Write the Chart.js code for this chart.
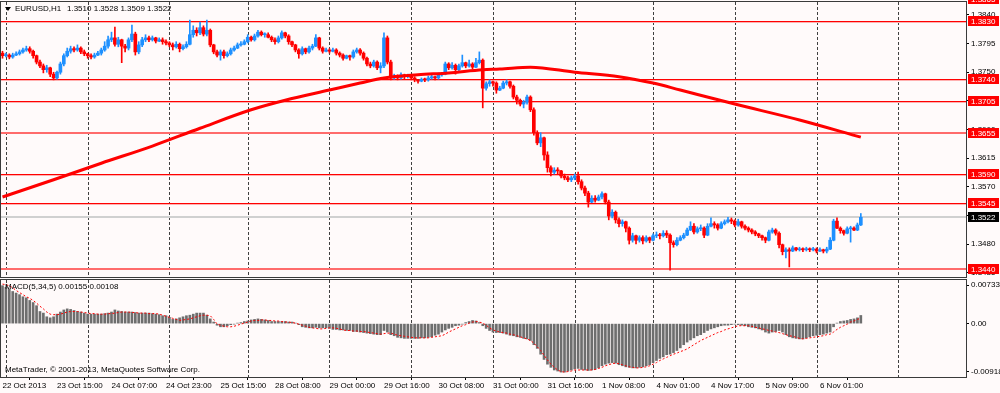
<!DOCTYPE html>
<html><head><meta charset="utf-8">
<script src="https://cdn.jsdelivr.net/npm/chart.js@4.4.0/dist/chart.umd.min.js"></script>
<style>
html,body{margin:0;padding:0;background:#FFFAFA;}
#wrap{position:relative;width:1000px;height:393px;background:#FFFAFA;overflow:hidden}
#c1{position:absolute;left:0;top:0}
#c2{position:absolute;left:0;top:279px}
</style></head><body>
<div id="wrap"><canvas id="c1" width="1000" height="279"></canvas><canvas id="c2" width="1000" height="114"></canvas></div>
<script>
// ---------- DATA ----------
const symbolTitle = "EURUSD,H1";
const titleValues = "1.3510 1.3528 1.3509 1.3522";
const macdTitle = "MACD(5,34,5) 0.00155 0.00108";
const credit = "MetaTrader, \u00A9 2001-2013, MetaQuotes Software Corp.";

const xTickBars = [0,16,32,48,64,80,96,112,128,144,160,176,192,208,224,240];
const xTickLabels = ["22 Oct 2013","23 Oct 15:00","24 Oct 07:00","24 Oct 23:00","25 Oct 15:00","28 Oct 08:00","29 Oct 00:00","29 Oct 16:00","30 Oct 08:00","31 Oct 00:00","31 Oct 16:00","1 Nov 08:00","4 Nov 01:00","4 Nov 17:00","5 Nov 09:00","6 Nov 01:00"];
const dayStartBars = [1,25,49,72,96,120,144,168,191,215,239,263];

const priceTicks = [1.3840,1.3795,1.3750,1.3705,1.3660,1.3615,1.3570,1.3525,1.3480,1.3435];
const levelPrices = [1.3865,1.3830,1.3740,1.3705,1.3655,1.3590,1.3545,1.3440];
const softLevels = [1.3655,1.3440];
const currentPrice = 1.3522;
const macdTicks = [0.00733,0,-0.00918];

const open = [1.3780,
1.3776,1.3777,1.3774,1.3777,1.3779,1.3782,1.3785,1.3787,1.3783,1.3776,
1.3766,1.3760,1.3754,1.3757,1.3747,1.3741,1.3750,1.3763,1.3776,1.3783,
1.3787,1.3785,1.3788,1.3782,1.3779,1.3776,1.3774,1.3777,1.3780,1.3785,
1.3791,1.3801,1.3804,1.3794,1.3801,1.3791,1.3788,1.3801,1.3810,1.3782,
1.3793,1.3801,1.3804,1.3801,1.3804,1.3799,1.3801,1.3798,1.3796,1.3793,
1.3790,1.3794,1.3787,1.3790,1.3794,1.3809,1.3816,1.3812,1.3820,1.3810,
1.3816,1.3793,1.3782,1.3777,1.3782,1.3776,1.3779,1.3785,1.3788,1.3793,
1.3794,1.3798,1.3805,1.3801,1.3807,1.3813,1.3809,1.3809,1.3805,1.3801,
1.3798,1.3804,1.3812,1.3807,1.3798,1.3793,1.3785,1.3779,1.3787,1.3782,
1.3788,1.3791,1.3804,1.3788,1.3783,1.3785,1.3783,1.3785,1.3780,1.3777,
1.3772,1.3776,1.3774,1.3782,1.3785,1.3780,1.3772,1.3763,1.3760,1.3766,
1.3757,1.3760,1.3804,1.3766,1.3741,1.3744,1.3741,1.3746,1.3743,1.3744,
1.3741,1.3738,1.3736,1.3739,1.3738,1.3741,1.3743,1.3741,1.3746,1.3747,
1.3763,1.3757,1.3761,1.3754,1.3760,1.3765,1.3760,1.3763,1.3758,1.3765,
1.3769,1.3725,1.3732,1.3735,1.3733,1.3722,1.3725,1.3733,1.3735,1.3728,
1.3711,1.3706,1.3700,1.3703,1.3711,1.3691,1.3655,1.3639,1.3647,1.3620,
1.3600,1.3593,1.3596,1.3595,1.3587,1.3584,1.3581,1.3584,1.3587,1.3578,
1.3568,1.3560,1.3546,1.3552,1.3549,1.3554,1.3559,1.3546,1.3524,1.3530,
1.3518,1.3512,1.3515,1.3505,1.3486,1.3493,1.3486,1.3490,1.3485,1.3490,
1.3486,1.3493,1.3494,1.3493,1.3497,1.3494,1.3482,1.3479,1.3486,1.3490,
1.3494,1.3502,1.3508,1.3499,1.3504,1.3505,1.3494,1.3508,1.3512,1.3510,
1.3505,1.3512,1.3515,1.3518,1.3516,1.3510,1.3515,1.3508,1.3505,1.3502,
1.3499,1.3496,1.3493,1.3490,1.3486,1.3499,1.3502,1.3497,1.3479,1.3468,
1.3471,1.3469,1.3474,1.3471,1.3472,1.3471,1.3472,1.3471,1.3472,1.3469,
1.3471,1.3469,1.3472,1.3486,1.3516,1.3505,1.3501,1.3497,1.3504,1.3505,
1.3502,1.3510];

const close = [
1.3776,1.3777,1.3774,1.3777,1.3779,1.3782,1.3785,1.3787,1.3783,1.3776,
1.3766,1.3760,1.3754,1.3757,1.3747,1.3741,1.3750,1.3763,1.3776,1.3783,
1.3787,1.3785,1.3788,1.3782,1.3779,1.3776,1.3774,1.3777,1.3780,1.3785,
1.3791,1.3801,1.3804,1.3794,1.3801,1.3791,1.3788,1.3801,1.3810,1.3782,
1.3793,1.3801,1.3804,1.3801,1.3804,1.3799,1.3801,1.3798,1.3796,1.3793,
1.3790,1.3794,1.3787,1.3790,1.3794,1.3809,1.3816,1.3812,1.3820,1.3810,
1.3816,1.3793,1.3782,1.3777,1.3782,1.3776,1.3779,1.3785,1.3788,1.3793,
1.3794,1.3798,1.3805,1.3801,1.3807,1.3813,1.3809,1.3809,1.3805,1.3801,
1.3798,1.3804,1.3812,1.3807,1.3798,1.3793,1.3785,1.3779,1.3787,1.3782,
1.3788,1.3791,1.3804,1.3788,1.3783,1.3785,1.3783,1.3785,1.3780,1.3777,
1.3772,1.3776,1.3774,1.3782,1.3785,1.3780,1.3772,1.3763,1.3760,1.3766,
1.3757,1.3760,1.3804,1.3766,1.3741,1.3744,1.3741,1.3746,1.3743,1.3744,
1.3741,1.3738,1.3736,1.3739,1.3738,1.3741,1.3743,1.3741,1.3746,1.3747,
1.3763,1.3757,1.3761,1.3754,1.3760,1.3765,1.3760,1.3763,1.3758,1.3765,
1.3769,1.3725,1.3732,1.3735,1.3733,1.3722,1.3725,1.3733,1.3735,1.3728,
1.3711,1.3706,1.3700,1.3703,1.3711,1.3691,1.3655,1.3639,1.3647,1.3620,
1.3600,1.3593,1.3596,1.3595,1.3587,1.3584,1.3581,1.3584,1.3587,1.3578,
1.3568,1.3560,1.3546,1.3552,1.3549,1.3554,1.3559,1.3546,1.3524,1.3530,
1.3518,1.3512,1.3515,1.3505,1.3486,1.3493,1.3486,1.3490,1.3485,1.3490,
1.3486,1.3493,1.3494,1.3493,1.3497,1.3494,1.3482,1.3479,1.3486,1.3490,
1.3494,1.3502,1.3508,1.3499,1.3504,1.3505,1.3494,1.3508,1.3512,1.3510,
1.3505,1.3512,1.3515,1.3518,1.3516,1.3510,1.3515,1.3508,1.3505,1.3502,
1.3499,1.3496,1.3493,1.3490,1.3486,1.3499,1.3502,1.3497,1.3479,1.3468,
1.3471,1.3469,1.3474,1.3471,1.3472,1.3471,1.3472,1.3471,1.3472,1.3469,
1.3471,1.3469,1.3472,1.3486,1.3516,1.3505,1.3501,1.3497,1.3504,1.3505,
1.3502,1.3510,1.3522];

const high = [
1.3783,1.3780,1.3779,1.3780,1.3782,1.3785,1.3788,1.3791,1.3790,1.3785,
1.3777,1.3769,1.3763,1.3761,1.3758,1.3750,1.3752,1.3766,1.3779,1.3788,
1.3791,1.3790,1.3793,1.3790,1.3785,1.3780,1.3779,1.3780,1.3783,1.3788,
1.3798,1.3807,1.3813,1.3821,1.3805,1.3802,1.3794,1.3804,1.3824,1.3813,
1.3798,1.3805,1.3809,1.3807,1.3807,1.3805,1.3804,1.3804,1.3801,1.3798,
1.3796,1.3798,1.3796,1.3793,1.3798,1.3832,1.3823,1.3820,1.3829,1.3823,
1.3832,1.3818,1.3794,1.3785,1.3785,1.3785,1.3782,1.3788,1.3791,1.3796,
1.3798,1.3801,1.3809,1.3807,1.3810,1.3816,1.3815,1.3812,1.3812,1.3807,
1.3804,1.3807,1.3815,1.3813,1.3809,1.3799,1.3794,1.3787,1.3790,1.3788,
1.3791,1.3794,1.3809,1.3805,1.3790,1.3788,1.3787,1.3788,1.3787,1.3782,
1.3779,1.3777,1.3777,1.3785,1.3788,1.3787,1.3782,1.3774,1.3766,1.3769,
1.3768,1.3765,1.3812,1.3807,1.3769,1.3747,1.3746,1.3749,1.3747,1.3747,
1.3746,1.3743,1.3739,1.3741,1.3741,1.3744,1.3746,1.3744,1.3749,1.3750,
1.3766,1.3765,1.3765,1.3763,1.3763,1.3777,1.3766,1.3769,1.3765,1.3772,
1.3782,1.3771,1.3735,1.3738,1.3736,1.3735,1.3728,1.3736,1.3738,1.3736,
1.3730,1.3714,1.3708,1.3706,1.3714,1.3713,1.3694,1.3658,1.3655,1.3648,
1.3625,1.3603,1.3600,1.3600,1.3596,1.3590,1.3587,1.3587,1.3590,1.3593,
1.3581,1.3571,1.3563,1.3556,1.3556,1.3557,1.3562,1.3560,1.3549,1.3534,
1.3532,1.3521,1.3518,1.3516,1.3507,1.3497,1.3494,1.3493,1.3493,1.3493,
1.3491,1.3496,1.3499,1.3497,1.3501,1.3501,1.3496,1.3485,1.3490,1.3493,
1.3497,1.3505,1.3515,1.3512,1.3507,1.3510,1.3507,1.3512,1.3521,1.3515,
1.3512,1.3515,1.3518,1.3522,1.3521,1.3518,1.3519,1.3516,1.3510,1.3507,
1.3504,1.3501,1.3497,1.3494,1.3491,1.3502,1.3505,1.3504,1.3499,1.3480,
1.3474,1.3474,1.3477,1.3475,1.3475,1.3474,1.3475,1.3474,1.3475,1.3474,
1.3474,1.3472,1.3475,1.3490,1.3519,1.3521,1.3507,1.3502,1.3507,1.3508,
1.3507,1.3513,1.3528];

const low = [
1.3772,1.3774,1.3771,1.3772,1.3776,1.3777,1.3780,1.3783,1.3780,1.3772,
1.3763,1.3757,1.3749,1.3750,1.3743,1.3738,1.3739,1.3747,1.3760,1.3774,
1.3780,1.3782,1.3783,1.3779,1.3776,1.3772,1.3771,1.3772,1.3776,1.3777,
1.3783,1.3788,1.3798,1.3791,1.3790,1.3765,1.3782,1.3785,1.3798,1.3777,
1.3779,1.3790,1.3798,1.3798,1.3799,1.3796,1.3798,1.3794,1.3793,1.3790,
1.3785,1.3788,1.3782,1.3785,1.3788,1.3793,1.3805,1.3807,1.3809,1.3807,
1.3807,1.3790,1.3779,1.3774,1.3769,1.3772,1.3774,1.3777,1.3783,1.3787,
1.3791,1.3793,1.3796,1.3799,1.3799,1.3805,1.3807,1.3805,1.3804,1.3798,
1.3794,1.3796,1.3802,1.3804,1.3794,1.3790,1.3782,1.3772,1.3777,1.3779,
1.3780,1.3785,1.3790,1.3785,1.3780,1.3782,1.3780,1.3782,1.3777,1.3774,
1.3769,1.3771,1.3769,1.3772,1.3780,1.3777,1.3769,1.3760,1.3757,1.3758,
1.3754,1.3749,1.3757,1.3763,1.3738,1.3739,1.3738,1.3739,1.3739,1.3741,
1.3738,1.3735,1.3733,1.3735,1.3735,1.3736,1.3739,1.3738,1.3739,1.3744,
1.3746,1.3754,1.3755,1.3747,1.3752,1.3758,1.3757,1.3758,1.3755,1.3757,
1.3763,1.3694,1.3722,1.3728,1.3728,1.3717,1.3721,1.3724,1.3730,1.3725,
1.3708,1.3700,1.3697,1.3694,1.3700,1.3688,1.3651,1.3636,1.3633,1.3612,
1.3593,1.3587,1.3590,1.3590,1.3584,1.3581,1.3578,1.3578,1.3581,1.3574,
1.3565,1.3556,1.3538,1.3545,1.3546,1.3548,1.3551,1.3543,1.3518,1.3521,
1.3513,1.3507,1.3508,1.3499,1.3480,1.3483,1.3480,1.3483,1.3480,1.3483,
1.3482,1.3485,1.3490,1.3488,1.3491,1.3490,1.3439,1.3475,1.3477,1.3485,
1.3488,1.3493,1.3501,1.3496,1.3497,1.3501,1.3490,1.3493,1.3507,1.3505,
1.3502,1.3504,1.3510,1.3513,1.3512,1.3507,1.3508,1.3505,1.3502,1.3499,
1.3496,1.3493,1.3490,1.3486,1.3482,1.3485,1.3497,1.3494,1.3474,1.3463,
1.3458,1.3444,1.3468,1.3469,1.3469,1.3468,1.3469,1.3468,1.3469,1.3466,
1.3468,1.3466,1.3466,1.3471,1.3485,1.3504,1.3497,1.3494,1.3496,1.3483,
1.3501,1.3501,1.3509];

const maBars = [0,15,29,44,58,73,83,96,105,112,122,131,141,146,155,168,181,191,199,215,234,252];
const maValues = [1.3554,1.3581,1.3607,1.3634,1.3662,1.3691,1.3706,1.3722,1.3733,1.3741,1.3746,1.3749,1.3754,1.3755,1.3758,1.3750,1.3743,1.3733,1.3722,1.3700,1.3675,1.3648];

const macdHist = [
0.0072,0.0069,0.0066,0.0061,0.0058,0.0055,0.0051,0.0049,0.0044,0.0040,
0.0034,0.0023,0.0020,0.0013,0.0011,0.0013,0.0018,0.0022,0.0026,0.0028,
0.0027,0.0025,0.0023,0.0022,0.0020,0.0018,0.0018,0.0018,0.0018,0.0018,
0.0019,0.0020,0.0022,0.0026,0.0024,0.0023,0.0022,0.0022,0.0022,0.0021,
0.0020,0.0020,0.0020,0.0020,0.0019,0.0018,0.0017,0.0015,0.0015,0.0012,
0.0008,0.0009,0.0011,0.0013,0.0015,0.0016,0.0018,0.0020,0.0020,0.0020,
0.0016,0.0009,0.0003,-0.0003,-0.0006,-0.0006,-0.0004,-0.0002,-0.0001,0.0001,
0.0002,0.0004,0.0005,0.0007,0.0008,0.0009,0.0008,0.0007,0.0006,0.0004,
0.0004,0.0004,0.0004,0.0004,0.0003,0.0003,0.0001,-0.0002,-0.0006,-0.0007,
-0.0008,-0.0008,-0.0007,-0.0008,-0.0008,-0.0008,-0.0009,-0.0011,-0.0011,-0.0012,
-0.0012,-0.0013,-0.0013,-0.0015,-0.0015,-0.0016,-0.0017,-0.0018,-0.0019,-0.0020,
-0.0021,-0.0021,-0.0013,-0.0016,-0.0021,-0.0023,-0.0026,-0.0027,-0.0028,-0.0028,
-0.0028,-0.0028,-0.0028,-0.0027,-0.0027,-0.0026,-0.0025,-0.0022,-0.0020,-0.0016,
-0.0012,-0.0009,-0.0007,-0.0004,-0.0003,-0.0001,0.0002,0.0004,0.0006,0.0005,
0.0002,-0.0004,-0.0009,-0.0013,-0.0016,-0.0017,-0.0017,-0.0018,-0.0020,-0.0022,
-0.0023,-0.0025,-0.0026,-0.0028,-0.0029,-0.0032,-0.0040,-0.0047,-0.0058,-0.0068,
-0.0077,-0.0083,-0.0088,-0.0090,-0.0092,-0.0092,-0.0090,-0.0088,-0.0086,-0.0085,
-0.0087,-0.0088,-0.0089,-0.0088,-0.0087,-0.0084,-0.0080,-0.0077,-0.0075,-0.0074,
-0.0075,-0.0078,-0.0080,-0.0082,-0.0083,-0.0084,-0.0084,-0.0083,-0.0082,-0.0080,
-0.0078,-0.0074,-0.0070,-0.0066,-0.0063,-0.0059,-0.0058,-0.0055,-0.0051,-0.0046,
-0.0040,-0.0035,-0.0031,-0.0027,-0.0023,-0.0021,-0.0017,-0.0013,-0.0010,-0.0008,
-0.0006,-0.0004,-0.0003,-0.0003,-0.0002,-0.0001,-0.0002,-0.0003,-0.0004,-0.0006,
-0.0007,-0.0008,-0.0010,-0.0012,-0.0016,-0.0018,-0.0016,-0.0015,-0.0013,-0.0016,
-0.0021,-0.0025,-0.0027,-0.0028,-0.0029,-0.0029,-0.0027,-0.0025,-0.0023,-0.0022,
-0.0021,-0.0020,-0.0018,-0.0016,-0.0006,0.0001,0.0004,0.0005,0.0006,0.0008,
0.0009,0.0011,0.00155];

const macdSignal = [
0.0075,0.0074,0.0072,0.0068,0.0063,0.0059,0.0055,0.0051,0.0048,0.0044,
0.0039,0.0033,0.0028,0.0022,0.0018,0.0017,0.0017,0.0018,0.0020,0.0022,
0.0023,0.0023,0.0023,0.0022,0.0021,0.0020,0.0019,0.0019,0.0018,0.0018,
0.0018,0.0019,0.0019,0.0020,0.0021,0.0022,0.0022,0.0022,0.0021,0.0021,
0.0020,0.0020,0.0020,0.0019,0.0019,0.0019,0.0018,0.0016,0.0014,0.0012,
0.0010,0.0008,0.0006,0.0007,0.0008,0.0009,0.0011,0.0013,0.0015,0.0016,
0.0016,0.0015,0.0008,-0.0001,-0.0003,-0.0005,-0.0006,-0.0006,-0.0005,-0.0003,
-0.0001,0.0001,0.0003,0.0005,0.0006,0.0006,0.0007,0.0007,0.0006,0.0006,
0.0005,0.0005,0.0004,0.0003,0.0003,0.0002,0.0001,-0.0001,-0.0003,-0.0005,
-0.0007,-0.0008,-0.0009,-0.0010,-0.0010,-0.0009,-0.0008,-0.0008,-0.0009,-0.0010,
-0.0012,-0.0013,-0.0013,-0.0014,-0.0014,-0.0015,-0.0015,-0.0016,-0.0017,-0.0018,
-0.0019,-0.0020,-0.0019,-0.0018,-0.0018,-0.0020,-0.0022,-0.0023,-0.0024,-0.0025,
-0.0026,-0.0027,-0.0027,-0.0027,-0.0027,-0.0027,-0.0026,-0.0025,-0.0024,-0.0023,
-0.0020,-0.0016,-0.0013,-0.0010,-0.0007,-0.0004,-0.0002,0.0001,0.0003,0.0004,
0.0003,0.0001,-0.0003,-0.0008,-0.0012,-0.0014,-0.0016,-0.0017,-0.0018,-0.0020,
-0.0021,-0.0023,-0.0025,-0.0027,-0.0029,-0.0032,-0.0037,-0.0044,-0.0051,-0.0060,
-0.0069,-0.0077,-0.0083,-0.0088,-0.0091,-0.0092,-0.0091,-0.0090,-0.0088,-0.0088,
-0.0088,-0.0088,-0.0088,-0.0088,-0.0087,-0.0085,-0.0083,-0.0080,-0.0078,-0.0076,
-0.0075,-0.0076,-0.0078,-0.0080,-0.0082,-0.0083,-0.0084,-0.0084,-0.0083,-0.0082,
-0.0080,-0.0077,-0.0074,-0.0070,-0.0067,-0.0064,-0.0061,-0.0058,-0.0056,-0.0053,
-0.0051,-0.0048,-0.0044,-0.0040,-0.0036,-0.0032,-0.0029,-0.0026,-0.0023,-0.0020,
-0.0017,-0.0015,-0.0012,-0.0010,-0.0008,-0.0006,-0.0004,-0.0004,-0.0004,-0.0004,
-0.0005,-0.0007,-0.0008,-0.0010,-0.0011,-0.0013,-0.0014,-0.0016,-0.0017,-0.0019,
-0.0021,-0.0023,-0.0024,-0.0026,-0.0028,-0.0029,-0.0028,-0.0027,-0.0026,-0.0025,
-0.0024,-0.0023,-0.0021,-0.0020,-0.0016,-0.0011,-0.0007,-0.0004,-0.0001,0.0003,
0.0005,0.0008,0.00108];

// ---------- RENDERING ----------
const FONT_FAMILY = '"Liberation Sans", Arial, sans-serif';
const font8 = {family: FONT_FAMILY, size: 8};
const xMin = -0.44, xMax = 282.88;
const BULL = '#1E90FF', BEAR = '#FF0000';

const barIdx = close.map((_, i) => i);
const candleColors = barIdx.map(i => close[i] >= open[i] ? BULL : BEAR);

function noPad(s){ s.paddingTop = 0; s.paddingBottom = 0; s.paddingLeft = 0; s.paddingRight = 0; }

function dayGrid(chart){
  const {ctx, chartArea:a, scales:{x}} = chart;
  ctx.save();
  ctx.beginPath(); ctx.rect(a.left, a.top, a.right - a.left, a.bottom - a.top); ctx.clip();
  ctx.strokeStyle = '#404040'; ctx.lineWidth = 1; ctx.setLineDash([3,2]);
  dayStartBars.forEach(b => {
    const px = Math.round(x.getPixelForValue(b)) + 0.5;
    ctx.beginPath(); ctx.moveTo(px, a.top); ctx.lineTo(px, a.bottom); ctx.stroke();
  });
  ctx.restore();
}
function panelBorder(chart){
  const {ctx, chartArea:a} = chart;
  ctx.save();
  ctx.strokeStyle = '#3a3a3a'; ctx.lineWidth = 1;
  ctx.strokeRect(a.left - 0.5, a.top - 0.5, a.right - a.left + 1, a.bottom - a.top + 1);
  ctx.restore();
}
function priceBox(ctx, yPix, text, bg){
  const yc = Math.round(yPix);
  ctx.fillStyle = bg; ctx.fillRect(968, yc - 5, 31, 10);
  ctx.fillStyle = '#FFFFFF'; ctx.font = '8px ' + FONT_FAMILY;
  ctx.textBaseline = 'middle'; ctx.textAlign = 'left';
  ctx.fillText(text, 971, yc + 0.5);
}

const mainDecor = {
  id: 'mainDecor',
  beforeDatasetsDraw(chart){
    dayGrid(chart);
    const {ctx, chartArea:a, scales:{y}} = chart;
    ctx.save();
    ctx.beginPath(); ctx.rect(a.left, a.top, a.right - a.left, a.bottom - a.top); ctx.clip();
    const cy = Math.round(y.getPixelForValue(currentPrice));
    ctx.fillStyle = '#D0D0D0'; ctx.fillRect(a.left, cy - 1, a.right - a.left, 2);
    levelPrices.forEach(p => {
      const py = Math.round(y.getPixelForValue(p));
      if (softLevels.includes(p)) {
        ctx.fillStyle = '#FF6B6B'; ctx.fillRect(a.left, py - 1, a.right - a.left, 2);
      } else {
        ctx.fillStyle = '#FFB0B0'; ctx.fillRect(a.left, py + 1, a.right - a.left, 1);
        ctx.fillStyle = '#FF0000'; ctx.fillRect(a.left, py, a.right - a.left, 1);
      }
    });
    ctx.restore();
  },
  afterDatasetsDraw(chart){
    panelBorder(chart);
    const {ctx} = chart;
    ctx.save();
    ctx.fillStyle = '#000';
    ctx.beginPath(); ctx.moveTo(5, 7); ctx.lineTo(11, 7); ctx.lineTo(8, 11); ctx.closePath(); ctx.fill();
    ctx.font = '8px ' + FONT_FAMILY; ctx.textBaseline = 'middle'; ctx.textAlign = 'left';
    ctx.fillText(symbolTitle, 15, 9);
    ctx.fillText(titleValues, 67, 9);
    ctx.restore();
  },
  afterDraw(chart){
    const {ctx, scales:{y}} = chart;
    ctx.save();
    levelPrices.forEach(p => priceBox(ctx, y.getPixelForValue(p), p.toFixed(4), '#FF0000'));
    priceBox(ctx, y.getPixelForValue(currentPrice), currentPrice.toFixed(4), '#000000');
    ctx.restore();
  }
};

const macdDecor = {
  id: 'macdDecor',
  beforeDatasetsDraw(chart){ dayGrid(chart); },
  afterDatasetsDraw(chart){
    panelBorder(chart);
    const {ctx} = chart;
    ctx.save();
    ctx.fillStyle = '#000'; ctx.font = '8px ' + FONT_FAMILY;
    ctx.textBaseline = 'middle'; ctx.textAlign = 'left';
    ctx.fillText(macdTitle, 5, 8);
    ctx.fillText(credit, 5, 91);
    ctx.restore();
  }
};

Chart.defaults.font.family = FONT_FAMILY;

new Chart(document.getElementById('c1'), {
  type: 'bar',
  data: { datasets: [
    { type:'line', data: maBars.map((b,k) => ({x:b, y:maValues[k]})), borderColor:'#FF0000', borderWidth:3,
      pointRadius:0, cubicInterpolationMode:'monotone', order:1 },
    { type:'bar', data: barIdx.map(i => ({x:i, y:[open[i], close[i]]})), backgroundColor: candleColors,
      barThickness:3, minBarLength:1, grouped:false, order:2 },
    { type:'bar', data: barIdx.map(i => ({x:i, y:[low[i], high[i]]})), backgroundColor: candleColors,
      barThickness:1, grouped:false, order:3 }
  ]},
  options: {
    responsive:false, animation:false, events:[],
    layout:{ padding:{ left:1, right:0, top:2, bottom:2 } },
    plugins:{ legend:{display:false}, tooltip:{enabled:false} },
    scales:{
      x:{ type:'linear', min:xMin, max:xMax, offset:false, display:false },
      y:{ position:'right', min:1.34282, max:1.38604,
          afterFit: s => { s.width = 34; noPad(s); },
          afterBuildTicks: s => { s.ticks = priceTicks.map(v => ({value:v})); },
          ticks:{ callback: v => Number(v).toFixed(4), font:font8, color:'#000', padding:2, autoSkip:false },
          grid:{ drawOnChartArea:false, drawTicks:true, tickLength:3, color:'#000' },
          border:{ display:true, color:'#000' } }
    }
  },
  plugins:[mainDecor]
});

new Chart(document.getElementById('c2'), {
  type: 'bar',
  data: { datasets: [
    { type:'line', data: barIdx.map(i => ({x:i, y:macdSignal[i]})), borderColor:'#FF0000', borderWidth:1,
      borderDash:[2,2], pointRadius:0, tension:0, order:1 },
    { type:'bar', data: barIdx.map(i => ({x:i, y:macdHist[i]})), backgroundColor:'#6E6E6E',
      barThickness:2, grouped:false, order:2 }
  ]},
  options: {
    responsive:false, animation:false, events:[],
    layout:{ padding:{ left:1, right:0, top:1, bottom:0 } },
    plugins:{ legend:{display:false}, tooltip:{enabled:false} },
    scales:{
      x:{ type:'linear', min:xMin, max:xMax, offset:false,
          afterBuildTicks: s => { s.ticks = xTickBars.map(v => ({value:v})); },
          afterFit: s => { s.height = 16; noPad(s); },
          ticks:{ callback: v => xTickLabels[xTickBars.indexOf(v)], align:'start', autoSkip:false,
                  maxRotation:0, minRotation:0, font:font8, color:'#000', padding:1 },
          grid:{ drawOnChartArea:false, drawTicks:true, tickLength:3, color:'#000' },
          border:{ display:true, color:'#000' } },
      y:{ position:'right', min:-0.01013, max:0.00828,
          afterFit: s => { s.width = 34; noPad(s); },
          afterBuildTicks: s => { s.ticks = macdTicks.map(v => ({value:v})); },
          ticks:{ callback: v => v === 0 ? '0.00' : Number(v).toFixed(5), font:font8, color:'#000', padding:2, autoSkip:false },
          grid:{ drawOnChartArea:false, drawTicks:true, tickLength:3, color:'#000' },
          border:{ display:true, color:'#000' } }
    }
  },
  plugins:[macdDecor]
});
</script>
</body></html>
